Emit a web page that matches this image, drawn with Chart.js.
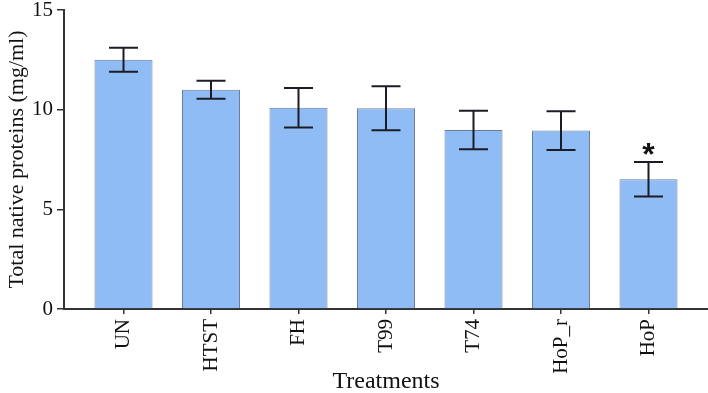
<!DOCTYPE html>
<html>
<head>
<meta charset="utf-8">
<script src="https://cdn.jsdelivr.net/npm/chart.js"></script>
<style>
  html, body { margin: 0; padding: 0; background: #fff; }
  #wrap { width: 708px; height: 393px; position: relative; }
</style>
</head>
<body>
<div id="wrap"><canvas id="protChart"></canvas></div>
<script>
// data
const treatments = ['UN', 'HTST', 'FH', 'T99', 'T74', 'HoP_r', 'HoP'];
const proteinMeans = [12.5, 11.0, 10.1, 10.07, 8.98, 8.95, 6.51];
const proteinErr = [0.6, 0.45, 0.99, 1.1, 0.97, 0.97, 0.86];
const signif = ['', '', '', '', '', '', '*'];
const yTicks = [0, 5, 10, 15];

const axisColor = '#333';
const textColor = '#111';
const serif = '"Liberation Serif", "DejaVu Serif", serif';

// error bars + asterisk, drawn from the scales
const errorBars = {
    id: 'errorBars',
    afterDatasetsDraw(chart) {
        let ctx = chart.ctx;
        let xs = chart.scales.x;
        let ys = chart.scales.y;
        ctx.save();
        ctx.strokeStyle = '#1c1c24';
        ctx.lineWidth = 2;
        for (let i = 0; i < proteinMeans.length; i++) {
            let x = xs.getPixelForValue(i);
            let top = ys.getPixelForValue(proteinMeans[i] + proteinErr[i]);
            let bot = ys.getPixelForValue(proteinMeans[i] - proteinErr[i]);
            ctx.beginPath();
            ctx.moveTo(x, top); ctx.lineTo(x, bot);
            ctx.moveTo(x - 14.5, top); ctx.lineTo(x + 14.5, top);
            ctx.moveTo(x - 14.5, bot); ctx.lineTo(x + 14.5, bot);
            ctx.stroke();
            if (signif[i]) {
                ctx.fillStyle = '#111';
                ctx.font = 'bold 32px "Liberation Sans", Arial, sans-serif';
                ctx.textAlign = 'center';
                ctx.textBaseline = 'middle';
                ctx.fillText(signif[i], x, top - 6);
            }
        }
        ctx.restore();
    }
};

var ctx = document.getElementById('protChart').getContext('2d');
var chart = new Chart(ctx, {
    type: 'bar',
    data: {
        datasets: [{
            data: proteinMeans.map((v, i) => ({ x: i, y: v })),
            backgroundColor: '#8fbcf5',
            borderColor: '#6a7d9c',
            borderWidth: 1,
            categoryPercentage: 1,
            barPercentage: 0.663
        }]
    },
    options: {
        responsive: true,
        maintainAspectRatio: false,
        animation: false,
        layout: { padding: { top: 10, right: 0, left: 0, bottom: 0 } },
        plugins: { legend: { display: false }, tooltip: { enabled: false } },
        scales: {
            x: {
                type: 'linear',
                offset: false,
                min: -0.68,
                max: 6.68,
                afterBuildTicks: (scale) => { scale.ticks = treatments.map((t, i) => ({ value: i })); },
                afterFit: (scale) => { scale.height = 84; },
                ticks: {
                    autoSkip: false,
                    minRotation: 90,
                    maxRotation: 90,
                    padding: 5,
                    color: textColor,
                    font: { family: serif, size: 21 },
                    callback: (v) => treatments[v]
                },
                grid: { display: true, offset: false, drawOnChartArea: false, drawTicks: true, tickLength: 5, color: axisColor, lineWidth: 1.5 },
                border: { display: true, color: axisColor, width: 2 },
                title: { display: true, text: 'Treatments', color: textColor, font: { family: serif, size: 24 }, padding: { top: 0, bottom: -3 } }
            },
            y: {
                min: 0,
                max: 15,
                afterBuildTicks: (scale) => { scale.ticks = yTicks.map(v => ({ value: v })); },
                // fixed width, and no extra room for the top label
                afterFit: (scale) => { scale.width = 64; scale.paddingTop = 0; scale.paddingBottom = 0; },
                ticks: { color: textColor, padding: 4, font: { family: serif, size: 21 } },
                grid: { display: true, drawOnChartArea: false, drawTicks: true, tickLength: 7, color: axisColor, lineWidth: 1.5 },
                border: { display: true, color: axisColor, width: 2 },
                title: { display: true, text: 'Total native proteins (mg/ml)', color: textColor, font: { family: serif, size: 22 }, padding: { top: 4, bottom: 0 } }
            }
        }
    },
    plugins: [errorBars]
});
</script>
</body>
</html>
